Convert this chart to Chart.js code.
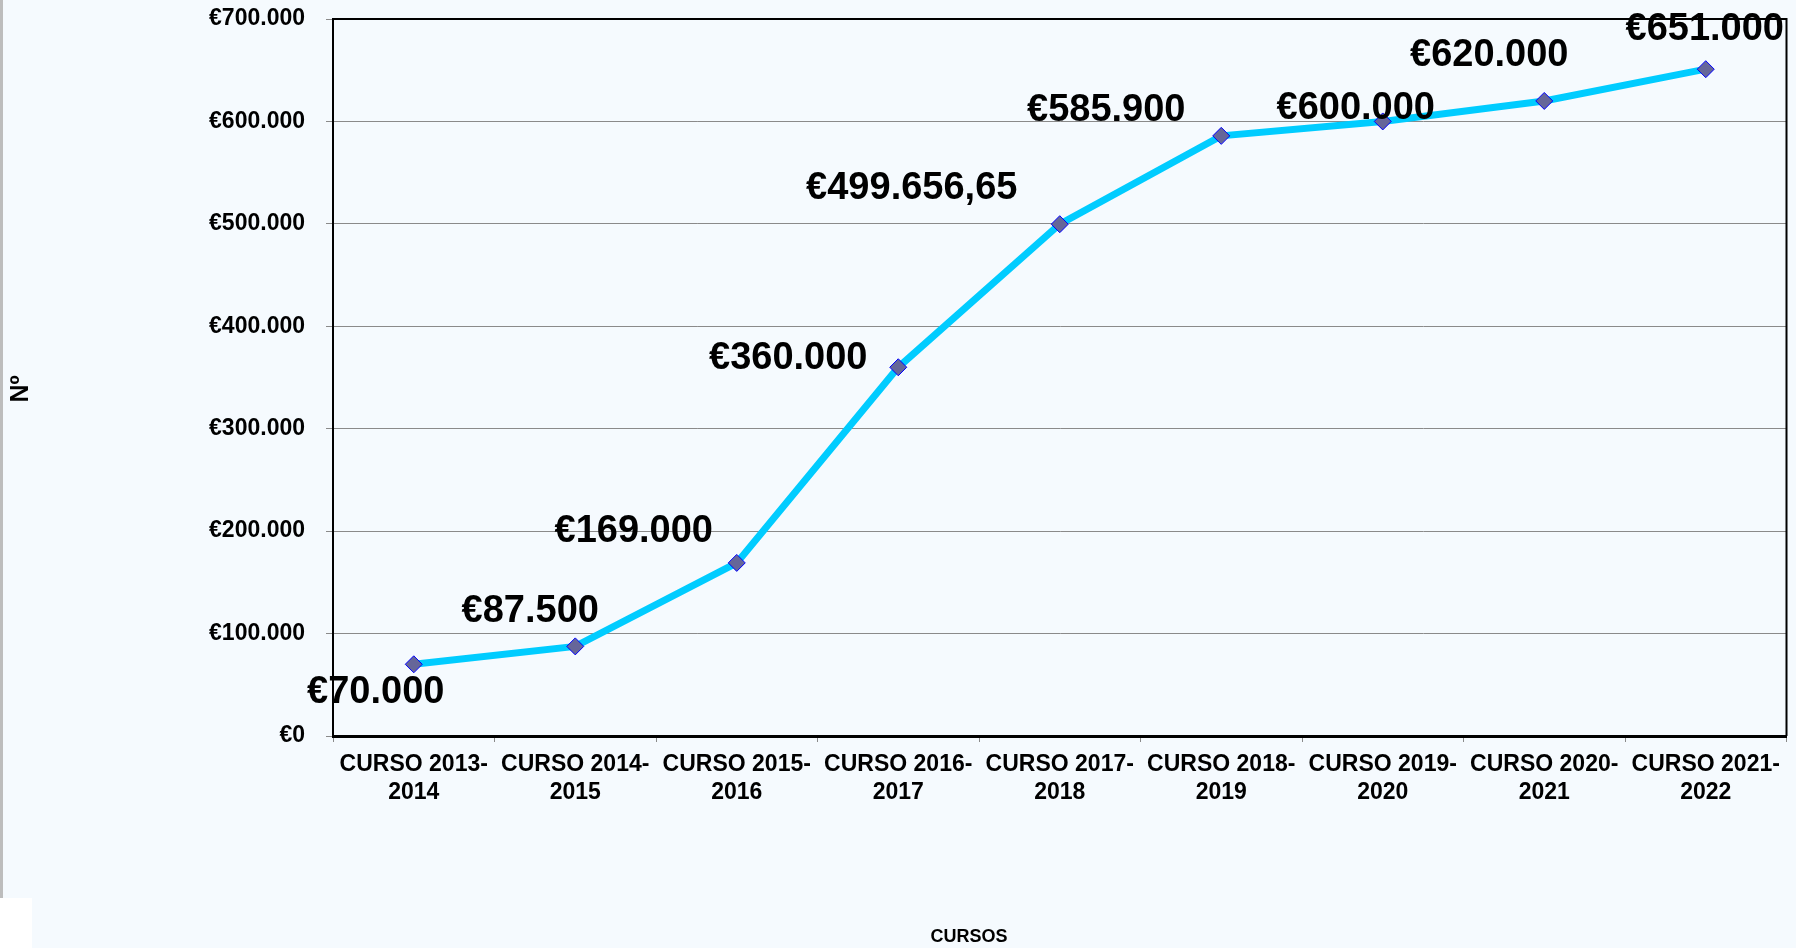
<!DOCTYPE html>
<html>
<head>
<meta charset="utf-8">
<script src="https://cdn.jsdelivr.net/npm/chart.js@4.4.1/dist/chart.umd.min.js"></script>
<style>
  html, body { margin: 0; padding: 0; background: #f5fafe; overflow: hidden; }
  #wrap { position: relative; width: 1796px; height: 948px; }
  #edge { position: absolute; left: 0; top: 0; width: 3px; height: 898px; background: #bdbdbd; }
  #corner { position: absolute; left: 0; top: 898px; width: 32px; height: 50px; background: #ffffff; }
</style>
</head>
<body>
<div id="wrap">
  <canvas id="chart" width="1796" height="948"></canvas>
  <div id="edge"></div>
  <div id="corner"></div>
</div>
<script>
const categories = [
  'CURSO 2013-2014', 'CURSO 2014-2015', 'CURSO 2015-2016', 'CURSO 2016-2017', 'CURSO 2017-2018',
  'CURSO 2018-2019', 'CURSO 2019-2020', 'CURSO 2020-2021', 'CURSO 2021-2022'
]
const importes = [70000, 87500, 169000, 360000, 499656.65, 585900, 600000, 620000, 651000]
const yTicks = [0, 100000, 200000, 300000, 400000, 500000, 600000, 700000]
const yTitle = 'Nº'
const xTitle = 'CURSOS'

// where each value label sits, relative to its point (label centre)
const labelOffsets = [
  [-38, 28], [-45, -35], [-103, -31], [-110, -9], [-148, -36],
  [-115, -25], [-27, -13], [-55, -45], [-1, -40]
]

const FONT = "'Liberation Sans', Arial, sans-serif"

function euro(v) {
  const [ent, dec] = String(v).split('.')
  const miles = ent.replace(/\B(?=(\d{3})+(?!\d))/g, '.')
  return '€' + miles + (dec ? ',' + dec : '')
}

const frame = {
  id: 'frame',
  beforeDatasetsDraw(chart) {
    const { ctx, chartArea: a } = chart
    ctx.save()
    ctx.strokeStyle = '#000'
    ctx.lineWidth = 2
    ctx.beginPath()
    ctx.moveTo(a.left, a.top)
    ctx.lineTo(a.right, a.top)
    ctx.lineTo(a.right, a.bottom)
    ctx.stroke()
    ctx.restore()
  }
}

const valueLabels = {
  id: 'valueLabels',
  afterDatasetsDraw(chart) {
    const { ctx } = chart
    const meta = chart.getDatasetMeta(0)
    ctx.save()
    ctx.font = 'bold 38px ' + FONT
    ctx.fillStyle = '#000'
    ctx.textAlign = 'center'
    ctx.textBaseline = 'middle'
    meta.data.forEach((pt, i) => {
      const [dx, dy] = labelOffsets[i]
      ctx.fillText(euro(importes[i]), pt.x + dx, pt.y + dy)
    })
    ctx.restore()
  }
}

const axisTitles = {
  id: 'axisTitles',
  afterDraw(chart) {
    const { ctx } = chart
    ctx.save()
    ctx.fillStyle = '#000'
    ctx.textAlign = 'center'
    ctx.textBaseline = 'middle'
    ctx.font = 'bold 18px ' + FONT
    ctx.fillText(xTitle, 969, 937)
    ctx.translate(21, 389)
    ctx.rotate(-Math.PI / 2)
    ctx.font = 'bold 25px ' + FONT
    ctx.fillText(yTitle, 0, 0)
    ctx.restore()
  }
}

const ctx = document.getElementById('chart').getContext('2d')
const lineChart = new Chart(ctx, {
  type: 'line',
  data: {
    labels: categories,
    datasets: [
      {
        label: 'Importe',
        data: importes,
        borderColor: '#00ccff',
        borderWidth: 7,
        tension: 0,
        pointStyle: 'rectRot',
        pointRadius: 8.5,
        pointHoverRadius: 8.5,
        pointBackgroundColor: '#666699',
        pointBorderColor: '#0000ff',
        pointBorderWidth: 1,
      }
    ],
  },
  options: {
    responsive: false,
    animation: false,
    events: [],
    layout: { padding: { top: 19, right: 6, left: 0, bottom: 0 } },
    plugins: {
      legend: { display: false },
      tooltip: { enabled: false },
    },
    scales: {
      x: {
        offset: true,
        afterFit: (scale) => { scale.height = 212 },
        grid: {
          offset: true,
          drawOnChartArea: false,
          drawTicks: true,
          tickLength: 6,
          tickColor: '#8a8a8a',
          tickWidth: 1,
        },
        border: { display: true, color: '#000', width: 3 },
        ticks: {
          autoSkip: false,
          maxRotation: 0,
          padding: 9,
          color: '#000',
          font: { family: FONT, size: 23, weight: 'bold' },
          callback: function (value) {
            const s = this.getLabelForValue(value)
            const k = s.indexOf('-') + 1
            return [s.slice(0, k), s.slice(k)]
          }
        }
      },
      y: {
        min: 0,
        max: 700000,
        afterFit: (scale) => {
          scale.width = 333
          scale.paddingTop = 0
          scale.paddingBottom = 0
        },
        afterBuildTicks: (scale) => { scale.ticks = yTicks.map((v) => ({ value: v })) },
        grid: {
          color: '#8a8a8a',
          lineWidth: 1,
          drawTicks: true,
          tickLength: 7,
          tickColor: '#8a8a8a',
        },
        border: { display: true, color: '#000', width: 2 },
        ticks: {
          padding: 21,
          color: '#000',
          font: { family: FONT, size: 23, weight: 'bold' },
          callback: (v) => euro(v),
        }
      }
    }
  },
  plugins: [frame, valueLabels, axisTitles]
})
</script>
</body>
</html>
